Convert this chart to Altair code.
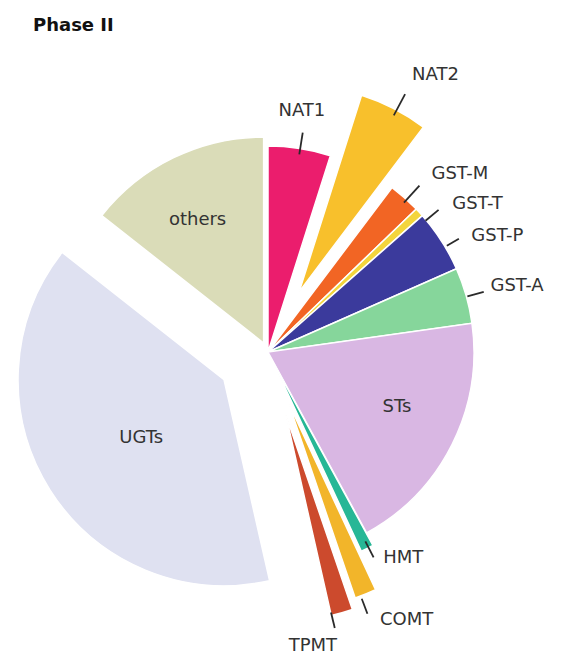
import math
import altair as alt
import pandas as pd

# ---- data ----
categories = ["NAT1", "NAT2", "GST-M", "GST-T", "GST-P", "GST-A", "STs",
              "HMT", "COMT", "TPMT", "UGTs", "others"]
shares = [4.9, 5.4, 2.5, 0.7, 4.9, 4.4, 19.3, 1.0, 1.7, 1.7, 39.2, 14.4]
colors = ["#eb1d6d", "#f8c02c", "#f26524", "#f3d53c", "#3b3a9c", "#86d69b",
          "#d9b7e3", "#27b796", "#f2b52a", "#cc4a2d", "#dfe1f1", "#dadcb8"]

# ---- styling: explosion (px) and label placement (polar, from pie centre) ----
explode = [0, 68, 0, 0, 0, 0, 0, 14, 55, 65, 52, 10]
label_ang = [8, 27.5, 42.5, 51.3, 60.3, 73.5, 113, 150.8, 157.3, 171.3, 236, 332]
label_rad = [243, 312, 242, 236, 234, 232, 140, 236, 290, 297, 153, 150]
label_align = ["center", "left", "left", "left", "left", "left", "center",
               "left", "left", "center", "center", "center"]
leader_ang = [9, 28, 42.3, 50.2, 59.3, 74.4, 0, 152.8, 159.2, 166.4, 0, 0]
leader_r1 = [200, 268, 202, 205, 208, 207, 0, 213, 264, 268, 0, 0]
leader_r2 = [222, 292, 225, 222, 222, 224, 0, 231, 280, 284, 0, 0]

W, H = 572, 655
PAD_TOP = 40
HP = H - PAD_TOP
R = 206
CX, CY = 268, 352 - PAD_TOP
total = sum(shares)

df = pd.DataFrame({
    "order": list(range(len(categories))),
    "cat": categories,
    "share": shares,
    "explode": explode,
    "lab_ang": label_ang,
    "lab_r": label_rad,
    "align": label_align,
    "ld_ang": leader_ang,
    "ld_r1": leader_r1,
    "ld_r2": leader_r2,
})

xs = alt.Scale(domain=[-CX / R, (W - CX) / R], nice=False, zero=False)
ys = alt.Scale(domain=[(CY - HP) / R, CY / R], nice=False, zero=False)

base = alt.Chart(df).transform_window(
    cum="sum(share)", sort=[alt.SortField("order")], frame=[None, 0]
).transform_calculate(
    s0="datum.cum - datum.share",
    am=f"2*PI*(datum.cum - datum.share/2)/{total}",
).transform_calculate(
    cx=f"datum.explode/{R}*sin(datum.am)",
    cy=f"datum.explode/{R}*cos(datum.am)",
    tx=f"datum.lab_r/{R}*sin(datum.lab_ang*PI/180)",
    ty=f"datum.lab_r/{R}*cos(datum.lab_ang*PI/180)",
    l1x=f"datum.ld_r1/{R}*sin(datum.ld_ang*PI/180)",
    l1y=f"datum.ld_r1/{R}*cos(datum.ld_ang*PI/180)",
    l2x=f"datum.ld_r2/{R}*sin(datum.ld_ang*PI/180)",
    l2y=f"datum.ld_r2/{R}*cos(datum.ld_ang*PI/180)",
)

arcs = base.mark_arc(radius=R, stroke="white", strokeWidth=1.5).encode(
    x=alt.X("cx:Q", scale=xs, axis=None),
    y=alt.Y("cy:Q", scale=ys, axis=None),
    theta=alt.Theta("s0:Q", scale=alt.Scale(domain=[0, total], range=[0, 2 * math.pi]), stack=False),
    theta2=alt.Theta2("cum:Q"),
    color=alt.Color("cat:N", scale=alt.Scale(domain=categories, range=colors), legend=None),
    order=alt.Order("order:Q"),
)

leaders = base.transform_filter("datum.ld_r1 > 0").mark_rule(
    color="#2a2a2a", strokeWidth=1.8
).encode(
    x=alt.X("l1x:Q", scale=xs, axis=None),
    y=alt.Y("l1y:Q", scale=ys, axis=None),
    x2=alt.X2("l2x:Q"),
    y2=alt.Y2("l2y:Q"),
)

def labels(al):
    return base.transform_filter(f"datum.align == '{al}'").mark_text(
        align=al, baseline="middle", fontSize=18, font="DejaVu Sans", color="#333333"
    ).encode(
        x=alt.X("tx:Q", scale=xs, axis=None),
        y=alt.Y("ty:Q", scale=ys, axis=None),
        text=alt.Text("cat:N"),
    )

chart = alt.layer(arcs, leaders, labels("left"), labels("center")).properties(
    width=W,
    height=HP,
    autosize=alt.AutoSizeParams(type="none"),
    padding={"left": 0, "right": 0, "top": PAD_TOP, "bottom": 0},
    title=alt.TitleParams("Phase II", anchor="start", dx=33, offset=5, fontSize=18,
                          fontWeight="bold", font="DejaVu Sans", color="#111111"),
).configure_view(stroke=None)

chart.save("out.html", embed_options={"renderer": "svg", "actions": False})
